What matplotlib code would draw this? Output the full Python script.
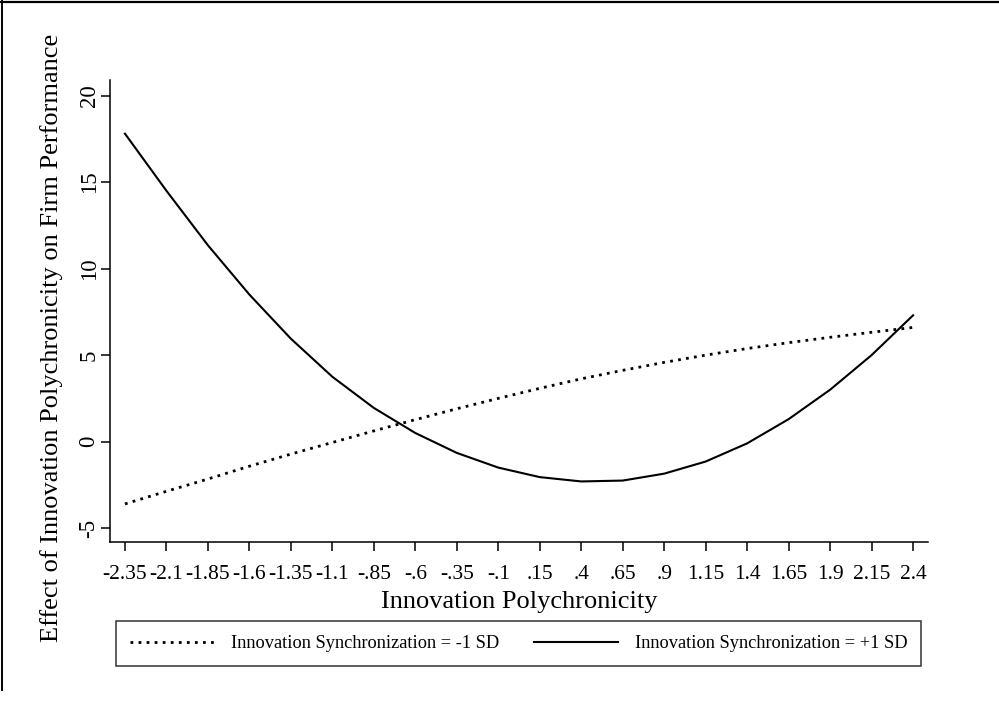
import numpy as np
import matplotlib
matplotlib.use("Agg")
import matplotlib.pyplot as plt
from matplotlib.lines import Line2D

plt.rcParams.update({
    "font.family": "serif",
    "font.serif": ["Liberation Serif", "DejaVu Serif"],
})

# x positions where the margins were evaluated (also the tick labels)
polychron = [-2.35, -2.1, -1.85, -1.6, -1.35, -1.1, -0.85, -0.6, -0.35, -0.1,
             0.15, 0.4, 0.65, 0.9, 1.15, 1.4, 1.65, 1.9, 2.15, 2.4]
xtick_labels = ["-2.35", "-2.1", "-1.85", "-1.6", "-1.35", "-1.1", "-.85", "-.6",
                "-.35", "-.1", ".15", ".4", ".65", ".9", "1.15", "1.4", "1.65",
                "1.9", "2.15", "2.4"]

# effect at Innovation Synchronization = -1 SD (dotted)
sync_low = [-3.60, -2.87, -2.16, -1.42, -0.72, -0.05, 0.62, 1.27, 1.90, 2.50,
            3.08, 3.63, 4.12, 4.58, 5.00, 5.38, 5.72, 6.03, 6.32, 6.60]
# effect at Innovation Synchronization = +1 SD (solid)
sync_high = [17.80, 14.50, 11.35, 8.50, 5.95, 3.75, 1.95, 0.50, -0.65, -1.50,
             -2.05, -2.30, -2.25, -1.85, -1.15, -0.10, 1.30, 3.00, 5.00, 7.30]

yticks = [-5, 0, 5, 10, 15, 20]

W, H = 999, 702
fig = plt.figure(figsize=(W / 100, H / 100), dpi=100)
ax = fig.add_axes([110 / W, 1 - 542 / H, (928 - 110) / W, (542 - 80) / H])

ax.plot(polychron, sync_low, color="black", linewidth=2.0,
        linestyle=(0, (1, 1.9)), label="Innovation Synchronization = -1 SD")
ax.plot(polychron, sync_high, color="black", linewidth=1.5,
        label="Innovation Synchronization = +1 SD")

ax.set_xlim(-2.44, 2.49)
ax.set_ylim(-5.8, 20.9)
ax.set_xticks(polychron)
ax.set_xticklabels(xtick_labels, fontsize=15.5)
ax.set_yticks(yticks)
ax.set_yticklabels([str(v) for v in yticks], fontsize=16.5,
                   rotation=90, va="center")

for s in ["top", "right"]:
    ax.spines[s].set_visible(False)
for s in ["left", "bottom"]:
    ax.spines[s].set_linewidth(1.1)
ax.tick_params(axis="both", direction="out", length=6.5, width=1.1, color="black")
ax.tick_params(axis="x", pad=10)
ax.tick_params(axis="y", pad=1)

ax.set_xlabel("Innovation Polychronicity", fontsize=19, labelpad=5)
fig.text(52 / W, 1 - 338 / H,
         "Effect of Innovation Polychronicity on Firm Performance",
         rotation=90, ha="center", va="center", fontsize=19)

leg = fig.legend(loc="center", bbox_to_anchor=(518.5 / W, 1 - 643.5 / H),
                 ncol=2, fontsize=13.2, frameon=True, fancybox=False,
                 edgecolor="black", handlelength=4.6, handletextpad=0.9,
                 columnspacing=1.9, borderpad=0.75)
leg.get_frame().set_linewidth(1.1)

# outer graph frame (top and left edges only are visible)
fig.add_artist(Line2D([0, 1], [1 - 1.5 / H, 1 - 1.5 / H], color="black",
                      linewidth=1.6, transform=fig.transFigure))
fig.add_artist(Line2D([1.5 / W, 1.5 / W], [1, 1 - 690 / H], color="black",
                      linewidth=1.4, transform=fig.transFigure))

fig.savefig("out.png", dpi=100, facecolor="white")
